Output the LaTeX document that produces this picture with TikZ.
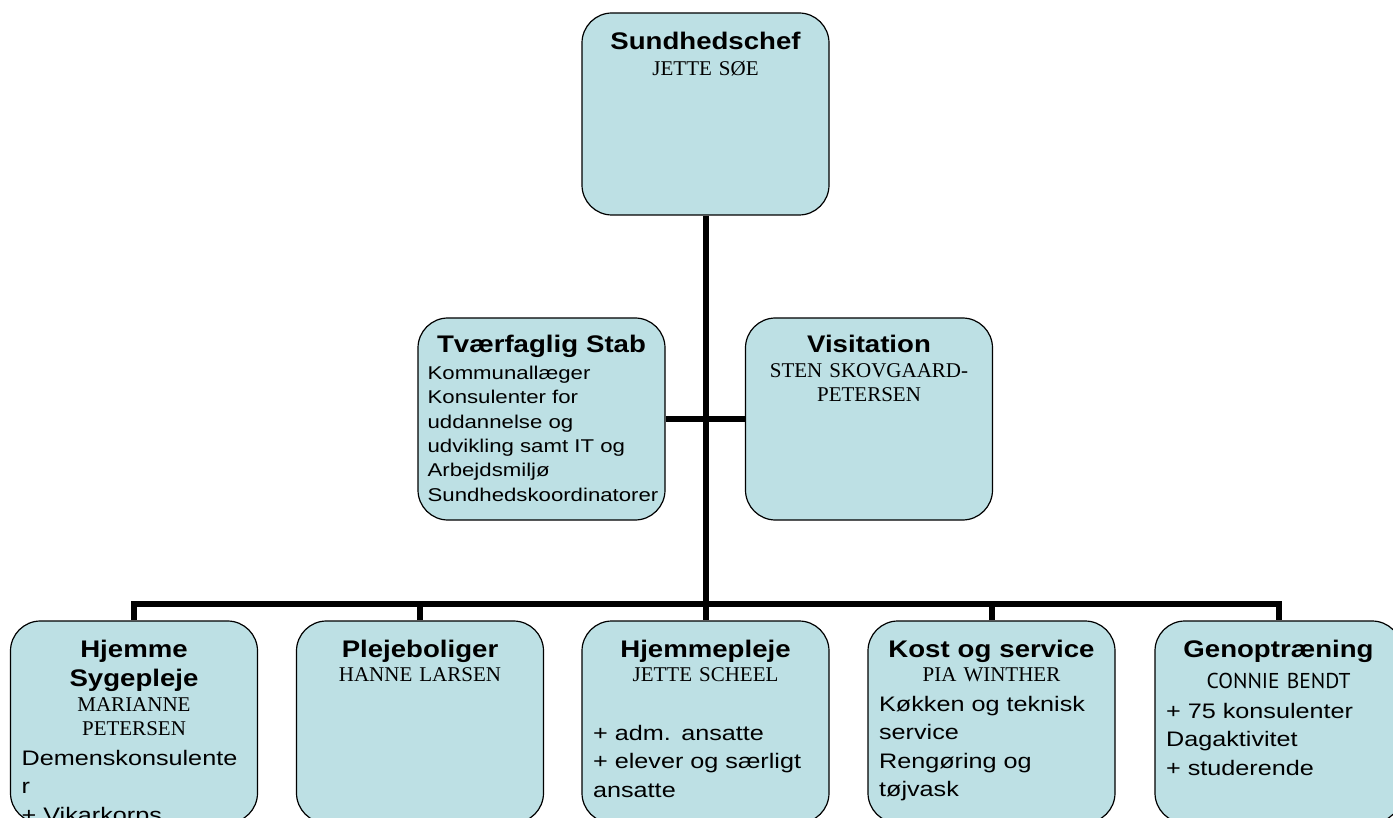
\documentclass[tikz,border=0pt]{standalone}
\usepackage{fontspec}
\setmainfont{Liberation Sans}[FakeStretch=1.15]
\newfontfamily\bodyfont{Liberation Sans}[FakeStretch=1.2]
\newfontfamily\namefont{Liberation Serif}
\newfontfamily\handfont{PT Sans}
\usepackage{tikz}
\usetikzlibrary{positioning}
\definecolor{boxfill}{RGB}{189,224,228}

\begin{document}
\begin{tikzpicture}[x=1pt,y=-1pt,
  unitbox/.style={draw,line width=1.2pt,fill=boxfill,rounded corners=30pt,minimum width=247pt,minimum height=202pt,inner sep=0pt},
  headtxt/.style={anchor=base,text width=240pt,align=center,inner sep=0pt,font=\fontsize{24}{29}\selectfont\bfseries},
  persontxt/.style={anchor=base,text width=240pt,align=center,inner sep=0pt,font=\namefont\fontsize{21}{24}\selectfont},
  bodytxt/.style={anchor=base west,text width=235pt,align=left,inner sep=0pt,xshift=11.5pt,font=\bodyfont\fontsize{21}{28.5}\selectfont},
  wire/.style={line width=6pt,line join=miter}]
      \useasboundingbox (0,0) rectangle (1393,818);
      \clip (0,0) rectangle (1393,818);
      \node[unitbox] (chef) at (705.5,114) {};
      \node[unitbox] (stab) at (541.5,419) {};
      \node[unitbox] (visit) at (869,419) {};
      \node[unitbox] (hsp) at (134,722) {};
      \node[unitbox] (pleje) at (420,722) {};
      \node[unitbox] (hjp) at (705.5,722) {};
      \node[unitbox] (kost) at (991.5,722) {};
      \node[unitbox] (genop) at (1278.5,722) {};
      \coordinate (bus) at (705.5,604);
      \draw[wire] (chef.south) -- (hjp.north);
      \draw[wire] (stab.east) -- (visit.west);
      \draw[wire] (hsp.north) |- (bus) -| (genop.north);
      \draw[wire] (pleje.north) -- (pleje.north |- bus);
      \draw[wire] (kost.north) -- (kost.north |- bus);
      \node[headtxt,yshift=-37pt] (cheft) at (chef.north) {Sundhedschef};
      \node[persontxt,yshift=-63pt] (chefp) at (chef.north) {JETTE SØE};
      \node[headtxt,yshift=-35pt] (stabt) at (stab.north) {Tværfaglig Stab};
      \node[bodytxt,xshift=-1.5pt,yshift=-62pt,font=\bodyfont\fontsize{18.5}{24.4}\selectfont] (stabb) at (stab.north west)
        {Kommunallæger\\Konsulenter for\\uddannelse og\\udvikling samt IT og\\Arbejdsmiljø\\Sundhedskoordinatorer};
      \node[headtxt,yshift=-35pt] (visitt) at (visit.north) {Visitation};
      \node[persontxt,yshift=-60pt] (visitp) at (visit.north) {STEN SKOVGAARD-\\PETERSEN};
      \node[headtxt,yshift=-37pt] (hspt) at (hsp.north) {Hjemme\\Sygepleje};
      \node[persontxt,yshift=-91pt] (hspp) at (hsp.north) {MARIANNE\\PETERSEN};
      \node[bodytxt,yshift=-145pt] (hspb) at (hsp.north west) {Demenskonsulente\\r\\+ Vikarkorps};
      \node[headtxt,yshift=-37pt] (plejet) at (pleje.north) {Plejeboliger};
      \node[persontxt,yshift=-61pt] (plejep) at (pleje.north) {HANNE LARSEN};
      \node[headtxt,yshift=-37pt] (hjpt) at (hjp.north) {Hjemmepleje};
      \node[persontxt,yshift=-61pt] (hjpp) at (hjp.north) {JETTE SCHEEL};
      \node[bodytxt,yshift=-120pt] (hjpb) at (hjp.north west) {+ adm. ansatte\\+ elever og særligt\\ansatte};
      \node[headtxt,yshift=-37pt] (kostt) at (kost.north) {Kost og service};
      \node[persontxt,yshift=-61pt] (kostp) at (kost.north) {PIA WINTHER};
      \node[bodytxt,yshift=-91pt] (kostb) at (kost.north west) {Køkken og teknisk\\service\\Rengøring og\\tøjvask};
      \node[headtxt,yshift=-37pt] (genopt) at (genop.north) {Genoptræning};
      \node[persontxt,yshift=-68pt,font=\handfont\fontsize{21.5}{24}\selectfont] (genopp) at (genop.north) {CONNIE BENDT};
      \node[bodytxt,yshift=-98pt] (genopb) at (genop.north west) {+ 75 konsulenter\\Dagaktivitet\\+ studerende};
\end{tikzpicture}
\end{document}
